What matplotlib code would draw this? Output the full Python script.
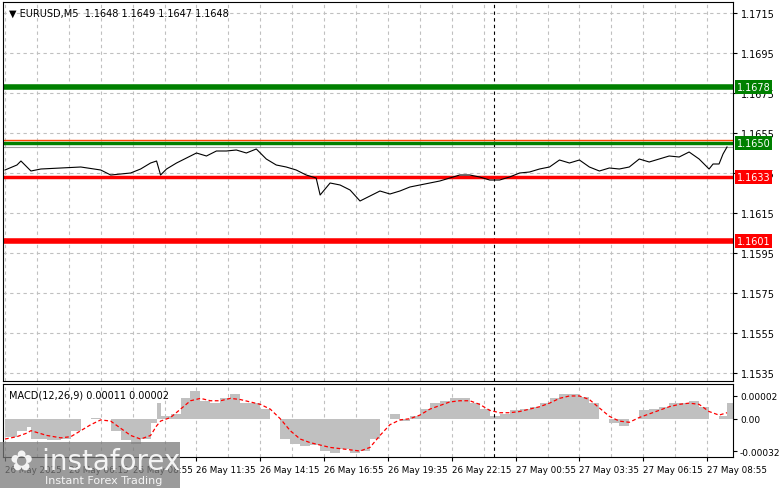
import matplotlib.pyplot as plt
from matplotlib.patches import Rectangle

# bar index -> close price (estimated off the chart)
price_bars = [0, 6, 8, 13, 18, 28, 38, 48, 53, 58, 63, 68, 73, 76, 78, 81, 86, 91, 96, 101, 106, 111, 116,
              121, 126, 131, 136, 141, 146, 151, 156, 158, 163, 168, 173, 178, 183, 188, 193, 198, 203, 208,
              213, 218, 223, 228, 233, 238, 243, 248, 253, 258, 263, 268, 273, 278, 283, 288, 293, 298, 303,
              308, 313, 318, 323, 328, 333, 338, 343, 348, 353, 355, 358, 360, 362]
price = [1.16365, 1.1639, 1.1641, 1.1636, 1.1637, 1.16375, 1.1638, 1.16365, 1.1634, 1.16345, 1.1635, 1.1637,
         1.1640, 1.1641, 1.1634, 1.1637, 1.1640, 1.16425, 1.1645, 1.16435, 1.1646, 1.1646, 1.16465, 1.1645,
         1.1647, 1.1642, 1.1639, 1.1638, 1.16365, 1.1634, 1.16325, 1.1624, 1.1630, 1.1629, 1.16265, 1.1621,
         1.16235, 1.1626, 1.16245, 1.1626, 1.1628, 1.1629, 1.1630, 1.1631, 1.16325, 1.1634, 1.1634, 1.1633,
         1.16315, 1.16315, 1.1633, 1.1635, 1.16355, 1.1637, 1.1638, 1.16415, 1.1640, 1.16415, 1.1638, 1.1636,
         1.16375, 1.1637, 1.1638, 1.1642, 1.16405, 1.1642, 1.16435, 1.1643, 1.16455, 1.1642, 1.1637, 1.16395,
         1.16395, 1.16445, 1.1648]

# MACD histogram and signal, units of 1e-5
macd_bars = [0, 6, 11, 13, 21, 28, 33, 38, 43, 48, 53, 58, 63, 68, 73, 76, 78, 83, 88, 93, 98, 103, 108,
             113, 118, 123, 128, 133, 138, 143, 148, 153, 158, 163, 168, 173, 178, 183, 188, 193, 198, 203,
             208, 213, 218, 223, 228, 233, 238, 243, 248, 253, 258, 263, 268, 273, 278, 283, 288, 293, 298,
             303, 308, 313, 318, 323, 328, 333, 338, 343, 348, 353, 358, 362]
macd = [-15, -10, -7, -17, -18, -17, -10, 0, 1, 0, -10, -18, -21, -17, -4, 13, 2, 4, 17, 23, 15, 13, 17,
        21, 13, 13, 8, 0, -17, -21, -23, -22, -27, -29, -25, -29, -27, -17, 0, 4, -2, 2, 8, 13, 15, 17, 17,
        13, 8, 2, 4, 7, 8, 10, 13, 17, 21, 21, 18, 13, 0, -4, -6, 0, 7, 8, 10, 13, 13, 15, 10, 0, 2, 13]
signal = [-17, -15, -12, -10, -14, -16, -15, -10, -5, -1, -2, -8, -14, -17, -14, -6, -2, 1, 8, 15, 17, 15,
          15, 17, 16, 14, 12, 8, 0, -10, -17, -20, -22, -24, -25, -26, -27, -24, -14, -5, -1, 0, 3, 8, 11,
          14, 15, 15, 12, 7, 5, 5, 6, 8, 10, 13, 17, 19, 19, 16, 9, 2, -2, -3, 1, 4, 7, 10, 12, 13, 12, 6,
          3, 5]

price_ticks = [1.1715, 1.1695, 1.1675, 1.1655, 1.1635, 1.1615, 1.1595, 1.1575, 1.1555, 1.1535]
time_bars = [0, 32, 64, 96, 128, 160, 192, 224, 256, 288, 320, 352]
time_labels = ["26 May 2025", "26 May 06:15", "26 May 08:55", "26 May 11:35", "26 May 14:15",
               "26 May 16:55", "26 May 19:35", "26 May 22:15", "27 May 00:55", "27 May 03:35",
               "27 May 06:15", "27 May 08:55"]
levels = [(1.1678, "#008000", 4, "1.1678"), (1.1650, "#008000", 2.5, "1.1650"),
          (1.16515, "#ff4500", 1, None), (1.1633, "#ff0000", 2.5, "1.1633"),
          (1.1601, "#ff0000", 4, "1.1601")]

W, H = 781, 489
fig = plt.figure(figsize=(W / 100, H / 100), dpi=100)
ax = fig.add_axes([3 / W, 1 - 382 / H, 730 / W, 379 / H])
axm = fig.add_axes([3 / W, 1 - 458 / H, 730 / W, 73 / H])

for a in (ax, axm):
    a.set_xlim(-1, 365)
    for s in a.spines.values():
        s.set_linewidth(0.8)
    for b in range(0, 365, 16):
        a.axvline(b, color="#c0c0c0", ls=(0, (3, 3)), lw=0.8, zorder=0)
    a.axvline(245, color="black", ls=(0, (3, 3)), lw=0.8)
    a.tick_params(length=0)

ylo, yhi = 1.1535 - 8 / 20000, 1.1715 + 11 / 20000
ax.set_ylim(ylo, yhi)
for t in price_ticks:
    ax.axhline(t, color="#c0c0c0", ls=(0, (3, 3)), lw=0.8, zorder=0)
ax.set_xticks([])
ax.yaxis.tick_right()
ax.set_yticks(price_ticks)
ax.set_yticklabels([f"{t:.4f}" for t in price_ticks], fontsize=7)
ax.tick_params(axis="y", length=3, pad=3)

for y, c, lw, lab in levels:
    ax.axhline(y, color=c, lw=lw)
    if lab:
        ax.text(1.005, y, lab, transform=ax.get_yaxis_transform(), color="white", fontsize=7,
                va="center", ha="left", bbox=dict(boxstyle="square,pad=0.2", fc=c, ec="none"))
ax.axhline(1.1648, color="#a0a0a0", lw=0.8)
ax.plot(price_bars, price, color="black", lw=0.8)
ax.text(0.008, 0.985, "▼ EURUSD,M5  1.1648 1.1649 1.1647 1.1648", transform=ax.transAxes,
        fontsize=7, va="top")

axm.set_ylim(-32, 29)
axm.bar(macd_bars, macd, width=[b - a for a, b in zip(macd_bars, macd_bars[1:] + [365])],
        align="edge", color="#c0c0c0", lw=0)
axm.plot(macd_bars, signal, color="red", ls=(0, (3, 2)), lw=0.9)
axm.yaxis.tick_right()
axm.set_yticks([19, 0, -27])
axm.set_yticklabels(["0.00002", "0.00", "-0.00032"], fontsize=6.5)
axm.tick_params(axis="y", length=3, pad=2)
axm.set_xticks(time_bars)
axm.set_xticklabels(time_labels, fontsize=6.3, ha="left")
axm.tick_params(axis="x", length=3, pad=3)
axm.text(0.008, 0.93, "MACD(12,26,9) 0.00011 0.00002", transform=axm.transAxes, fontsize=7, va="top")

# watermark
fig.patches.append(Rectangle((0, 0), 180 / W, 1 - 443 / H, transform=fig.transFigure,
                             fc="#7a7a7a", alpha=0.75, ec="none", zorder=5))
fig.text(10 / W, 1 - 470 / H, "✿ instaforex", color="white", fontsize=20, zorder=6, alpha=0.9)
fig.text(45 / W, 1 - 484 / H, "Instant Forex Trading", color="white", fontsize=8, zorder=6, alpha=0.9)

fig.savefig("out.png", dpi=100)
